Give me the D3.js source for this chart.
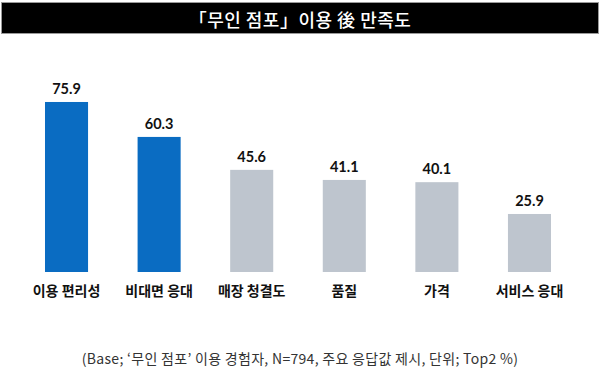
<!DOCTYPE html>
<html><head><meta charset="utf-8">
<script src="https://cdn.jsdelivr.net/npm/d3@7"></script>
<style>html,body{margin:0;padding:0;background:#fff;}svg{display:block;}</style>
</head><body>
<script>
const title = "「무인 점포」이용 後 만족도";
const categories = ["이용 편리성","비대면 응대","매장 청결도","품질","가격","서비스 응대"];
const values = [75.9, 60.3, 45.6, 41.1, 40.1, 25.9];
const valueLabels = ["75.9","60.3","45.6","41.1","40.1","25.9"];
const highlighted = [true, true, false, false, false, false];
const footnote = "(Base; ‘무인 점포’ 이용 경험자, N=794, 주요 응답값 제시, 단위; Top2 %)";

const W = 600, H = 383;
const svg = d3.select("body").append("svg").attr("width", W).attr("height", H);
const kr = "'Noto Sans CJK KR','Noto Sans',sans-serif";

// title bar
svg.append("rect").attr("x",1.5).attr("y",2.5).attr("width",597).attr("height",31)
  .attr("fill","#000").attr("stroke","#9a9a9a").attr("stroke-width",1);
svg.append("text").attr("x",300).attr("y",19).attr("text-anchor","middle")
  .attr("dominant-baseline","central").attr("fill","#fff")
  .style("font-family",kr).style("font-size","18px").style("font-weight",500)
  .style("letter-spacing","0.5px")
  .text(title);

const x = d3.scaleBand().domain(categories).range([21.85, 574.15])
  .paddingInner(0.535).paddingOuter(0.25);
const y = d3.scaleLinear().domain([0, 100]).range([272, 48]);

const g = svg.append("g");
g.selectAll("rect.bar").data(values).join("rect").attr("class","bar")
  .attr("x",(d,i)=>x(categories[i])).attr("width",x.bandwidth())
  .attr("y",d=>y(d)).attr("height",d=>y(0)-y(d))
  .attr("fill",(d,i)=>highlighted[i] ? "#0A6CC2" : "#BEC5CE");

g.selectAll("text.val").data(values).join("text").attr("class","val")
  .attr("x",(d,i)=>x(categories[i])+x.bandwidth()/2)
  .attr("y",d=>y(d)-8).attr("text-anchor","middle")
  .attr("fill","#111").style("font-family","Lato,'Open Sans',sans-serif")
  .style("font-size","14.5px").style("font-weight",700)
  .text((d,i)=>valueLabels[i]);

const xAxis = d3.axisBottom(x).tickSize(0).tickPadding(0);
const ax = svg.append("g").attr("transform","translate(0,272)").call(xAxis);
ax.select(".domain").remove();
ax.selectAll("text").attr("y",19).attr("dy","0.35em")
  .attr("fill","#111").style("font-family",kr).style("font-size","14px").style("font-weight",700);

svg.append("text").attr("x",300).attr("y",358).attr("text-anchor","middle")
  .attr("dominant-baseline","central").attr("fill","#333")
  .style("font-family",kr).style("font-size","14px").style("letter-spacing","0.3px")
  .text(footnote);
</script>
</body></html>
